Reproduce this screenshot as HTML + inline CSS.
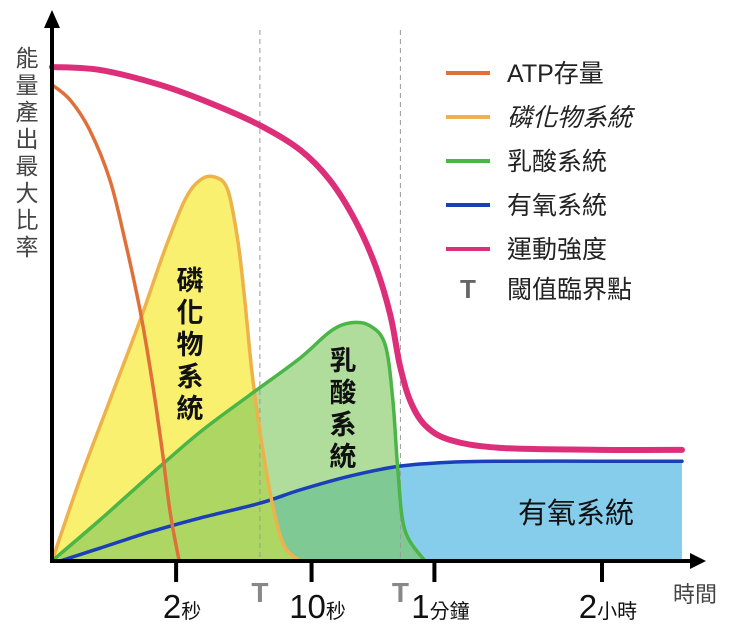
<!DOCTYPE html>
<html><head><meta charset="utf-8"><style>
body{margin:0;background:#fff}
svg{display:block;font-family:"Liberation Sans","Noto Sans CJK TC",sans-serif}
</style></head><body>
<svg id="c" width="740" height="626" viewBox="0 0 740 626">
<g id="fills"></g>
<g id="lines"></g>
<g id="axes"></g>
</svg>
<script>
const categories=["2秒","10秒","1分鐘","2小時"];
const tickT=[19.7,41.2,60.7,87.3];
const thresholdT=[33,55.3];
const pinkT=[0,7.6,17.1,25.1,33,39.4,44.1,48.1,51.3,53.7,55.2,56.8,59.2,63.2,71.1,87,100];
const pinkV=[100,99.4,96.4,92.7,88.2,83.2,77.1,69,59.9,49.8,39.7,32.6,27.5,24.5,22.9,22.5,22.5];
const atpT=[0,2.9,6,9.2,11.6,14,15.9,17.5,18.7,20,20.3];
const atpV=[96.4,93.3,87.2,77.1,64.8,50.6,36.4,22.3,10.3,1.2,0];
const phT=[0,4.4,9.2,14,17.9,21.1,23.5,25.9,27.9,29.5,30.6,31.7,33,34.9,36.8,39.4];
const phV=[0,16.4,32.6,48.8,63,73.1,77.1,77.7,75.1,64.8,52.8,38.7,26.3,12.1,3.2,0];
const laT=[0,7.6,15.6,23.5,31.4,39.4,44.1,47.3,50.5,52.9,54.1,54.9,56,59.2];
const laV=[0,8.3,17.4,26.1,33.6,41.1,46.4,48.2,47.6,43.7,32.6,18.4,6.3,0];
const aeT=[1.3,7.6,15.6,23.5,33,39.4,47.3,55.2,63.2,71.1,87,100];
const aeV=[0,2.6,5.9,8.7,11.7,14.4,17.2,19.2,20,20.2,20.2,20.2];
const X=t=>52+t*6.3, Y=v=>561-v*4.94;
const NS="http://www.w3.org/2000/svg";
function pathD(ts,vs){const p=ts.map((t,i)=>[X(t),Y(vs[i])]);let d="M"+p[0][0]+","+p[0][1];
for(let i=0;i<p.length-1;i++){const p0=p[i-1]||p[i],p1=p[i],p2=p[i+1],p3=p[i+2]||p2;
d+=" C"+(p1[0]+(p2[0]-p0[0])/6)+","+(p1[1]+(p2[1]-p0[1])/6)+" "+(p2[0]-(p3[0]-p1[0])/6)+","+(p2[1]-(p3[1]-p1[1])/6)+" "+p2[0]+","+p2[1];}return d;}
function mk(tag,attrs,parent,text){const e=document.createElementNS(NS,tag);for(const k in attrs)e.setAttribute(k,attrs[k]);if(text!==undefined)e.textContent=text;document.getElementById(parent).appendChild(e);return e;}
let e;
e=mk("path",{d:pathD(aeT,aeV)+" L"+X(100)+",561 L"+X(aeT[0])+",561 Z",fill:"#86cdec"},"fills");


e=mk("path",{d:pathD(phT,phV)+" Z",fill:"#f8f06e"},"fills");


e=mk("path",{d:pathD(laT,laV)+" Z",fill:"#7cc65a","fill-opacity":"0.6"},"fills");


thresholdT.forEach((t,i)=>{e=mk("line",{x1:X(t),x2:X(t),y1:30,y2:561,stroke:"#999","stroke-dasharray":"5,4","stroke-width":1},"fills");

});
const series=[[aeT,aeV,"#1a3fb8","aerobic-line"],[phT,phV,"#eeb24a","phosphagen-line"],[laT,laV,"#4bb548","lactic-line"],[atpT,atpV,"#e0703a","atp-line"],[pinkT,pinkV,"#dd2e7a","intensity-line"]];
series.forEach(s=>{e=mk("path",{d:pathD(s[0],s[1]),fill:"none",stroke:s[2],"stroke-width":s[3]=="intensity-line"?6:3.5,"stroke-linecap":"round"},"lines");

});
e=mk("path",{d:"M52,563 L52,22 M52,561 L696,561",stroke:"#000","stroke-width":4,fill:"none"},"axes");


e=mk("path",{d:"M52,10 L44,28 L60,28 Z M706,561 L690,553 L690,569 Z",fill:"#000"},"axes");


categories.forEach((c,i)=>{const x=X(tickT[i]);
e=mk("line",{x1:x,x2:x,y1:561,y2:582,stroke:"#000","stroke-width":4},"axes");


const m=c.match(/^(\d+)(.*)$/);
e=mk("text",{x:x+6,y:618,"text-anchor":"middle","font-size":33,fill:"#111"},"axes");


e.innerHTML='<tspan>'+m[1]+'</tspan><tspan font-size="20">'+m[2]+'</tspan>';});
thresholdT.forEach(t=>{e=mk("text",{x:X(t),y:602,"text-anchor":"middle","font-size":28,"font-weight":"bold",fill:"#888"},"axes","T");

});
e=mk("text",{x:695,y:602,"text-anchor":"middle","font-size":22,fill:"#444"},"axes","時間");


"能量產出最大比率".split("").forEach((ch,i)=>{e=mk("text",{x:27,y:66+i*27,"text-anchor":"middle","font-size":23,fill:"#444"},"axes",ch);

});
function vlabel(str,x,y0,name){str.split("").forEach((ch,i)=>{e=mk("text",{x:x,y:y0+i*32,"text-anchor":"middle","font-size":27,"font-weight":"bold",fill:"#111"},"axes",ch);

});}
vlabel("磷化物系統",190,290,"phosphagen-label");
vlabel("乳酸系統",343,370,"lactic-label");
e=mk("text",{x:576,y:523,"text-anchor":"middle","font-size":29,fill:"#111"},"axes","有氧系統");


const legNames=["ATP存量","磷化物系統","乳酸系統","有氧系統","運動強度"];
const legColors=["#e0703a","#eeb24a","#4bb548","#1a3fb8","#dd2e7a"];
legNames.forEach((n,i)=>{const y=73+i*44;
e=mk("line",{x1:446,x2:490,y1:y,y2:y,stroke:legColors[i],"stroke-width":4},"axes");


e=mk("text",{x:507,y:y+9,"font-size":25,fill:"#222","font-style":i==1?"italic":"normal"},"axes",n);

});
e=mk("text",{x:468,y:298,"text-anchor":"middle","font-size":26,"font-weight":"bold",fill:"#666"},"axes","T");


e=mk("text",{x:507,y:298,"font-size":25,fill:"#222"},"axes","閾值臨界點");


</script>
</body></html>
